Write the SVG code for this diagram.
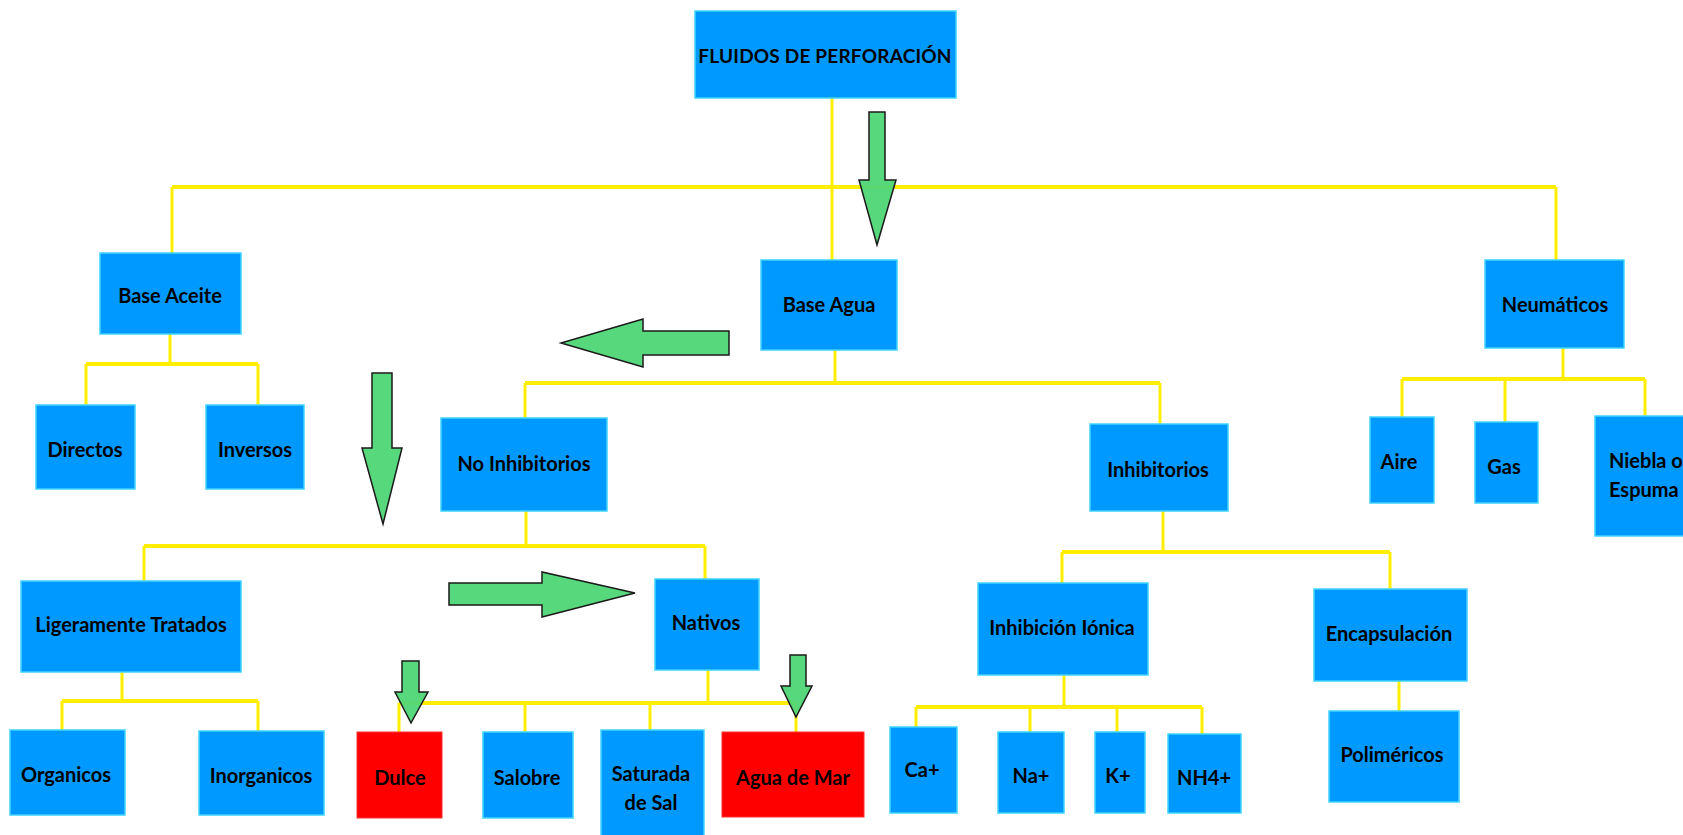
<svg xmlns="http://www.w3.org/2000/svg" width="1683" height="835" viewBox="0 0 1683 835">
<style>
.b{fill:#0099ff;stroke:#3fd3ff;stroke-width:1.5}
.r{fill:#ff0000;stroke:#ff3030;stroke-width:1}
.t{font-family:Lato,"Noto Sans",sans-serif;font-weight:bold;font-size:20px;fill:#000;text-anchor:middle;dominant-baseline:central}
.h{stroke:#ffee00;stroke-width:4;fill:none}
.v{stroke:#ffee00;stroke-width:3;fill:none}
.a{fill:#4fd675;stroke:#1a1a1a;stroke-width:1.5;fill-opacity:0.95}
</style>
<rect width="1683" height="835" fill="#ffffff"/>
<g id="connectors">
<line class="v" x1="832" y1="98" x2="832" y2="260"/>
<line class="h" x1="172" y1="187" x2="1556" y2="187"/>
<line class="v" x1="172" y1="187" x2="172" y2="253"/>
<line class="v" x1="1556" y1="187" x2="1556" y2="260"/>
<line class="v" x1="170" y1="334" x2="170" y2="364"/>
<line class="h" x1="86" y1="364" x2="258" y2="364"/>
<line class="v" x1="86" y1="364" x2="86" y2="405"/>
<line class="v" x1="258" y1="364" x2="258" y2="405"/>
<line class="v" x1="835" y1="350" x2="835" y2="383"/>
<line class="h" x1="525" y1="383" x2="1160" y2="383"/>
<line class="v" x1="525" y1="383" x2="525" y2="418"/>
<line class="v" x1="1160" y1="383" x2="1160" y2="424"/>
<line class="v" x1="1563" y1="348" x2="1563" y2="379"/>
<line class="h" x1="1402" y1="379" x2="1645" y2="379"/>
<line class="v" x1="1402" y1="379" x2="1402" y2="417"/>
<line class="v" x1="1505" y1="379" x2="1505" y2="422"/>
<line class="v" x1="1645" y1="379" x2="1645" y2="416"/>
<line class="v" x1="526" y1="511" x2="526" y2="546"/>
<line class="h" x1="144" y1="546" x2="705" y2="546"/>
<line class="v" x1="144" y1="546" x2="144" y2="581"/>
<line class="v" x1="705" y1="546" x2="705" y2="579"/>
<line class="v" x1="1163" y1="511" x2="1163" y2="552"/>
<line class="h" x1="1062" y1="552" x2="1390" y2="552"/>
<line class="v" x1="1062" y1="552" x2="1062" y2="583"/>
<line class="v" x1="1390" y1="552" x2="1390" y2="589"/>
<line class="v" x1="122" y1="672" x2="122" y2="701"/>
<line class="h" x1="62" y1="701" x2="258" y2="701"/>
<line class="v" x1="62" y1="701" x2="62" y2="730"/>
<line class="v" x1="258" y1="701" x2="258" y2="731"/>
<line class="v" x1="708" y1="670" x2="708" y2="703"/>
<line class="h" x1="399" y1="703" x2="796" y2="703"/>
<line class="v" x1="399" y1="703" x2="399" y2="732"/>
<line class="v" x1="525" y1="703" x2="525" y2="732"/>
<line class="v" x1="650" y1="703" x2="650" y2="730"/>
<line class="v" x1="796" y1="703" x2="796" y2="732"/>
<line class="v" x1="1064" y1="675" x2="1064" y2="707"/>
<line class="h" x1="916" y1="707" x2="1202" y2="707"/>
<line class="v" x1="916" y1="707" x2="916" y2="727"/>
<line class="v" x1="1030" y1="707" x2="1030" y2="732"/>
<line class="v" x1="1117" y1="707" x2="1117" y2="732"/>
<line class="v" x1="1202" y1="707" x2="1202" y2="734"/>
<line class="v" x1="1399" y1="681" x2="1399" y2="711"/>
</g>
<g id="n-fluidos"><rect class="b" x="695" y="11" width="261" height="87"/><text class="t" x="825" y="55" style="font-size:19px;letter-spacing:0.2px">FLUIDOS DE PERFORACIÓN</text></g>
<g id="n-base-aceite"><rect class="b" x="100" y="253" width="141" height="81"/><text class="t" x="170" y="295">Base Aceite</text></g>
<g id="n-base-agua"><rect class="b" x="761" y="260" width="136" height="90"/><text class="t" x="829" y="304">Base Agua</text></g>
<g id="n-neumaticos"><rect class="b" x="1485" y="260" width="139" height="88"/><text class="t" x="1555" y="304">Neumáticos</text></g>
<g id="n-directos"><rect class="b" x="36" y="405" width="99" height="84"/><text class="t" x="85" y="449">Directos</text></g>
<g id="n-inversos"><rect class="b" x="206" y="405" width="98" height="84"/><text class="t" x="255" y="449">Inversos</text></g>
<g id="n-no-inhibitorios"><rect class="b" x="441" y="418" width="166" height="93"/><text class="t" x="524" y="463">No Inhibitorios</text></g>
<g id="n-inhibitorios"><rect class="b" x="1090" y="424" width="138" height="87"/><text class="t" x="1158" y="469">Inhibitorios</text></g>
<g id="n-aire"><rect class="b" x="1370" y="417" width="64" height="86"/><text class="t" x="1399" y="461">Aire</text></g>
<g id="n-gas"><rect class="b" x="1475" y="422" width="63" height="81"/><text class="t" x="1504" y="466">Gas</text></g>
<g id="n-niebla"><rect class="b" x="1595" y="416" width="95" height="120"/><text class="t" x="1609" y="460" style="text-anchor:start">Niebla o</text><text class="t" x="1609" y="489" style="text-anchor:start">Espuma</text></g>
<g id="n-ligeramente"><rect class="b" x="21" y="581" width="220" height="91"/><text class="t" x="131" y="624">Ligeramente Tratados</text></g>
<g id="n-nativos"><rect class="b" x="655" y="579" width="104" height="91"/><text class="t" x="706" y="622">Nativos</text></g>
<g id="n-inhibicion-ionica"><rect class="b" x="978" y="583" width="170" height="92"/><text class="t" x="1062" y="627">Inhibición Iónica</text></g>
<g id="n-encapsulacion"><rect class="b" x="1314" y="589" width="153" height="92"/><text class="t" x="1389" y="633">Encapsulación</text></g>
<g id="n-organicos"><rect class="b" x="10" y="730" width="115" height="85"/><text class="t" x="66" y="774">Organicos</text></g>
<g id="n-inorganicos"><rect class="b" x="199" y="731" width="125" height="84"/><text class="t" x="261" y="775">Inorganicos</text></g>
<g id="n-dulce"><rect class="r" x="357" y="732" width="85" height="86"/><text class="t" x="400" y="777">Dulce</text></g>
<g id="n-salobre"><rect class="b" x="483" y="732" width="90" height="86"/><text class="t" x="527" y="777">Salobre</text></g>
<g id="n-saturada"><rect class="b" x="601" y="730" width="103" height="110"/><text class="t" x="651" y="773">Saturada</text><text class="t" x="651" y="802">de Sal</text></g>
<g id="n-agua-de-mar"><rect class="r" x="722" y="732" width="142" height="85"/><text class="t" x="793" y="777">Agua de Mar</text></g>
<g id="n-ca"><rect class="b" x="890" y="727" width="67" height="86"/><text class="t" x="922" y="769">Ca+</text></g>
<g id="n-na"><rect class="b" x="998" y="732" width="66" height="81"/><text class="t" x="1031" y="775">Na+</text></g>
<g id="n-k"><rect class="b" x="1095" y="732" width="50" height="81"/><text class="t" x="1118" y="775">K+</text></g>
<g id="n-nh4"><rect class="b" x="1168" y="734" width="73" height="79"/><text class="t" x="1204" y="777">NH4+</text></g>
<g id="n-polimericos"><rect class="b" x="1329" y="711" width="130" height="91"/><text class="t" x="1392" y="754">Poliméricos</text></g>
<g id="arrows">
<polygon class="a" points="869,112 885,112 885,180 896,180 877,245 859,180 869,180"/>
<polygon class="a" points="729,331 729,355 643,355 643,367 561,343 643,319 643,331"/>
<polygon class="a" points="372,373 392,373 392,448 402,448 383,524 362,448 372,448"/>
<polygon class="a" points="449,583 542,583 542,572 635,593 542,617 542,605 449,605"/>
<polygon class="a" points="402,661 419,661 419,692 428,692 411,723 395,692 402,692"/>
<polygon class="a" points="790,655 806,655 806,686 812,686 796,717 781,686 790,686"/>
</g>
</svg>
